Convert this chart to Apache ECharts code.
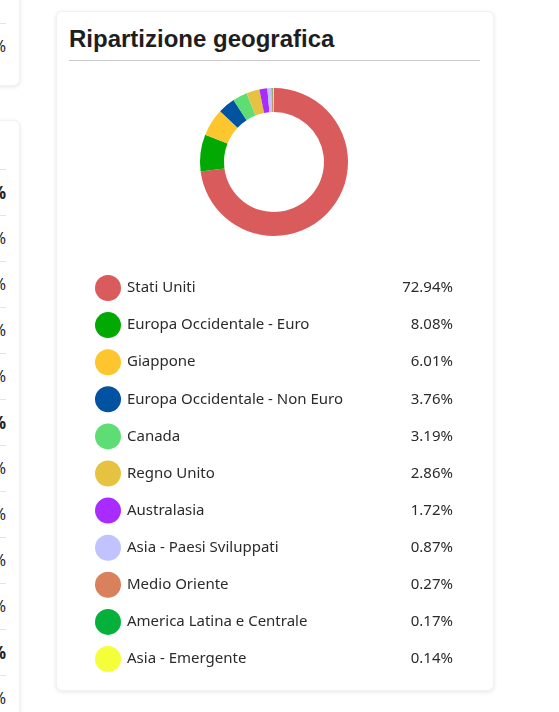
<!DOCTYPE html>
<html>
<head>
<meta charset="utf-8">
<script src="https://cdn.jsdelivr.net/npm/echarts@6/dist/echarts.min.js"></script>
<style>
  html, body { margin: 0; padding: 0; background: #ffffff; width: 559px; height: 712px; overflow: hidden; position: relative; }
  .card { position: absolute; background: #fff; border-radius: 6px; box-shadow: 0 1px 4px rgba(0,0,0,0.10); border: 1px solid #f2f2f2; box-sizing: border-box; }
  .row { position: absolute; left: 0; right: 13px; height: 46px; border-top: 1px solid #e3e3e3; box-sizing: border-box;
         text-align: right; line-height: 45px; font-family: "Noto Sans", sans-serif; font-size: 16px; color: #222; }
  .row.b { font-weight: bold; font-size: 17px; }
  #title { position: absolute; left: 12px; top: 13px; font-family: "Liberation Sans", Arial, sans-serif; font-weight: bold; font-size: 24px; color: #1e1e1e; }
  #rule { position: absolute; left: 12px; top: 48px; width: 411px; height: 1px; background: #cccccc; }
  #chart { position: absolute; left: 0; top: 59px; width: 436px; height: 610px; }
</style>
</head>
<body>
<div class="card" id="c1" style="left:-300px; top:-60px; width:320px; height:146px;"></div>
<div class="card" id="c2" style="left:-300px; top:120px; width:320px; height:700px;"></div>
<div class="card" style="left:56px; top:11px; width:438px; height:680px;">
  <div id="title">Ripartizione geografica</div>
  <div id="rule"></div>
  <div id="chart"></div>
</div>
<script>
// ---- data ----
const regions = ["Stati Uniti", "Europa Occidentale - Euro", "Giappone", "Europa Occidentale - Non Euro", "Canada", "Regno Unito", "Australasia", "Asia - Paesi Sviluppati", "Medio Oriente", "America Latina e Centrale", "Asia - Emergente"];
const shares = [72.94, 8.08, 6.01, 3.76, 3.19, 2.86, 1.72, 0.87, 0.27, 0.17, 0.14];
const colors = ["#d95b5b", "#02a902", "#fec62e", "#0153a1", "#5fdd75", "#e5c240", "#a92bff", "#c0c3ff", "#d9805c", "#05b13b", "#f4ff3a"];

// ---- decorative partial cards on the left ----
function addRow(parentId, top, bold) {
  const d = document.createElement('div');
  d.className = 'row' + (bold ? ' b' : '');
  d.style.top = top + 'px';
  d.textContent = '%';
  document.getElementById(parentId).appendChild(d);
}
addRow('c1', 82, false);
for (let i = 0; i < 12; i++) addRow('c2', 48 + i * 46, i % 5 === 0);

// ---- chart ----
const chart = echarts.init(document.getElementById('chart'), null, { renderer: 'canvas' });
const valueOf = {};
regions.forEach((r, i) => valueOf[r] = shares[i]);
const FONT = '"Noto Sans", sans-serif';
chart.setOption({
  animation: false,
  color: colors,
  legend: {
    orient: 'vertical',
    left: 33,
    top: 199,
    icon: 'circle',
    itemWidth: 26,
    itemHeight: 26,
    itemGap: 11.1,
    selectedMode: false,
    data: regions,
    formatter: function (name) {
      return '{n|' + name + '}{v|' + valueOf[name].toFixed(2) + '%}';
    },
    textStyle: {
      fontFamily: FONT,
      fontSize: 15,
      color: '#2b2b2b',
      rich: {
        n: { width: 271, fontFamily: FONT, fontSize: 15, color: '#2b2b2b', padding: [0, 0, 0, 1] },
        v: { width: 55, align: 'right', fontFamily: FONT, fontSize: 15, color: '#2b2b2b' }
      }
    }
  },
  series: [{
    type: 'pie',
    center: [217, 91],
    radius: [50, 74],
    startAngle: 90,
    clockwise: true,
    label: { show: false },
    labelLine: { show: false },
    emphasis: { disabled: true },
    itemStyle: { borderWidth: 0 },
    data: regions.map((r, i) => ({ name: r, value: shares[i] }))
  }]
});
</script>
</body>
</html>
